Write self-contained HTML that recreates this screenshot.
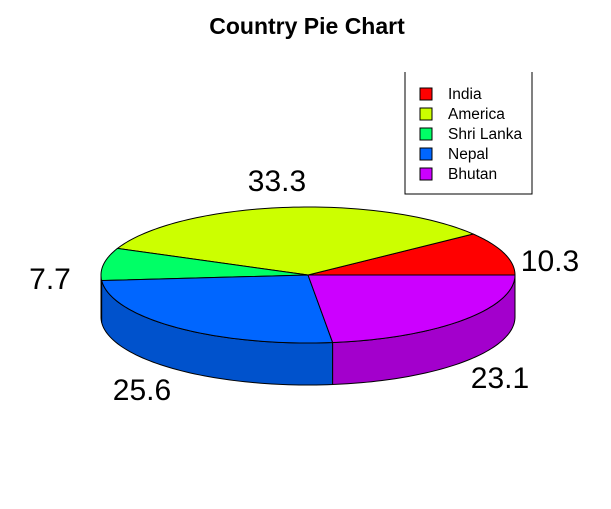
<!DOCTYPE html>
<html><head><meta charset="utf-8"><style>
body{margin:0;background:#fff;}
svg{display:block;font-family:"Liberation Sans",Arial,sans-serif;}
</style></head><body>
<svg id="chart" width="611" height="509" viewBox="0 0 611 509">
<rect width="611" height="509" fill="#fff"/>
<text x="307" y="34" text-anchor="middle" font-size="23" font-weight="bold">Country Pie Chart</text>
<g id="sides"></g><g id="tops"></g><g id="labels"></g>
<g>
<path d="M405 72 V194 H532 V72" fill="none" stroke="#000" stroke-width="1"/>
<g id="legend"></g>
</g>
</svg>
<script>
const categories=["India","America","Shri Lanka","Nepal","Bhutan"];
const values=[10.3,33.3,7.7,25.6,23.1];
const labels=["10.3","33.3","7.7","25.6","23.1"];
const topColors=["#FF0000","#CCFF00","#00FF66","#0066FF","#CC00FF"];
const sideColors=["#CC0000","#A3CC00","#00CC52","#0052CC","#A300CC"];
const labelPos=[[550,271],[277,191],[50,289],[142,400],[500,388]];
const NS="http://www.w3.org/2000/svg";
const cx=308,cy=275,rx=207,ry=68,h=42;
const total=values.reduce((a,b)=>a+b,0);
function px(t){return cx+rx*Math.cos(t);}
function py(t){return cy-ry*Math.sin(t);}
function mk(tag,attrs,parent){const e=document.createElementNS(NS,tag);for(const k in attrs)e.setAttribute(k,attrs[k]);parent.appendChild(e);return e;}
let ang=0;const slices=[];
values.forEach((v,i)=>{const a0=ang,a1=ang+v/total*2*Math.PI;ang=a1;slices.push([a0,a1]);});
const sides=document.getElementById('sides'),tops=document.getElementById('tops'),lab=document.getElementById('labels');
slices.forEach(([a0,a1],i)=>{
  const s=Math.max(a0,Math.PI),e=Math.min(a1,2*Math.PI);
  if(e>s){
    let d="";const n=60;
    for(let k=0;k<=n;k++){const t=s+(e-s)*k/n;d+=(k?"L":"M")+px(t).toFixed(2)+" "+py(t).toFixed(2);}
    for(let k=n;k>=0;k--){const t=s+(e-s)*k/n;d+="L"+px(t).toFixed(2)+" "+(py(t)+h).toFixed(2);}
    d+="Z";
    const p=mk('path',{d:d,fill:sideColors[i],stroke:"#000","stroke-width":"1"},sides);
    
    
  }
  let d="M"+cx+" "+cy;const n=80;
  for(let k=0;k<=n;k++){const t=a0+(a1-a0)*k/n;d+="L"+px(t).toFixed(2)+" "+py(t).toFixed(2);}
  d+="Z";
  const p=mk('path',{d:d,fill:topColors[i],stroke:"#000","stroke-width":"1"},tops);
  
  
  const t=mk('text',{x:labelPos[i][0],y:labelPos[i][1],"text-anchor":"middle","font-size":"30"},lab);
  t.textContent=labels[i];
  
  
});
const lg=document.getElementById('legend');
categories.forEach((c,i)=>{
  const y=94+i*20;
  const r=mk('rect',{x:420,y:y-6,width:12,height:12,fill:topColors[i],stroke:"#000","stroke-width":"1"},lg);
  
  
  const t=mk('text',{x:448,y:y+5,"font-size":"15.5"},lg);
  t.textContent=c;
  
  
});
</script>
</body></html>
